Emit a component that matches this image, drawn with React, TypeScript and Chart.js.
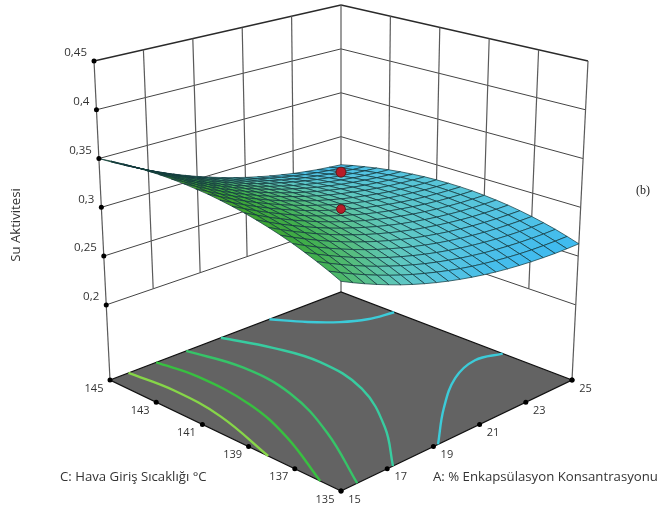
import React, { useEffect, useRef } from "react";
import { Chart, registerables } from "chart.js";

Chart.register(...registerables);

const enkapsulasyonA = [15, 15.5, 16, 16.5, 17, 17.5, 18, 18.5, 19, 19.5, 20, 20.5, 21, 21.5, 22, 22.5, 23, 23.5, 24, 24.5, 25];
const sicaklikC = [135, 135.5, 136, 136.5, 137, 137.5, 138, 138.5, 139, 139.5, 140, 140.5, 141, 141.5, 142, 142.5, 143, 143.5, 144, 144.5, 145];

// Su aktivitesi, one row per C value, one column per A value
const suAktivitesi = [
  [.3178, .3122, .3069, .3019, .2972, .2927, .2886, .2848, .2813, .2781, .2752, .2726, .2703, .2683, .2666, .2652, .2641, .2633, .2627, .2625, .2626],
  [.3230, .3173, .3119, .3069, .3021, .2976, .2934, .2895, .2860, .2827, .2797, .2770, .2746, .2726, .2708, .2693, .2681, .2672, .2667, .2664, .2664],
  [.3277, .3220, .3165, .3114, .3065, .3020, .2978, .2938, .2902, .2868, .2838, .2811, .2786, .2765, .2746, .2731, .2719, .2709, .2703, .2699, .2699],
  [.3321, .3263, .3208, .3156, .3107, .3061, .3017, .2977, .2940, .2906, .2875, .2847, .2822, .2800, .2781, .2765, .2751, .2741, .2734, .2730, .2729],
  [.3362, .3303, .3247, .3195, .3145, .3098, .3054, .3013, .2976, .2941, .2909, .2880, .2854, .2832, .2812, .2795, .2781, .2770, .2763, .2758, .2756],
  [.3399, .3340, .3283, .3230, .3179, .3132, .3087, .3046, .3007, .2972, .2939, .2910, .2883, .2860, .2839, .2822, .2807, .2796, .2787, .2782, .2779],
  [.3431, .3371, .3314, .3260, .3209, .3161, .3115, .3073, .3034, .2998, .2965, .2935, .2908, .2884, .2863, .2845, .2829, .2817, .2808, .2802, .2799],
  [.3460, .3399, .3341, .3287, .3235, .3186, .3140, .3097, .3058, .3021, .2987, .2956, .2928, .2904, .2882, .2863, .2847, .2834, .2825, .2818, .2814],
  [.3486, .3425, .3366, .3311, .3258, .3209, .3162, .3119, .3078, .3041, .3006, .2975, .2946, .2921, .2898, .2879, .2862, .2849, .2838, .2831, .2826],
  [.3507, .3445, .3386, .3330, .3277, .3227, .3179, .3135, .3094, .3056, .3021, .2989, .2960, .2934, .2911, .2891, .2873, .2859, .2848, .2840, .2835],
  [.3525, .3462, .3402, .3346, .3292, .3241, .3193, .3148, .3107, .3068, .3032, .2999, .2969, .2943, .2919, .2898, .2880, .2865, .2854, .2845, .2839],
  [.3540, .3477, .3416, .3359, .3304, .3253, .3204, .3159, .3116, .3077, .3040, .3007, .2976, .2949, .2924, .2903, .2884, .2869, .2856, .2847, .2840],
  [.3549, .3485, .3424, .3366, .3311, .3259, .3209, .3163, .3120, .3080, .3043, .3009, .2978, .2950, .2925, .2903, .2883, .2867, .2854, .2844, .2837],
  [.3557, .3492, .3430, .3372, .3316, .3263, .3213, .3166, .3123, .3082, .3044, .3009, .2977, .2949, .2923, .2900, .2880, .2863, .2850, .2839, .2831],
  [.3560, .3495, .3432, .3373, .3316, .3263, .3212, .3165, .3120, .3079, .3040, .3005, .2972, .2943, .2916, .2893, .2872, .2855, .2840, .2829, .2820],
  [.3560, .3494, .3431, .3370, .3313, .3259, .3208, .3160, .3114, .3072, .3033, .2997, .2964, .2933, .2906, .2882, .2861, .2843, .2827, .2815, .2806],
  [.3554, .3487, .3423, .3363, .3305, .3250, .3198, .3149, .3104, .3061, .3021, .2984, .2950, .2920, .2892, .2867, .2845, .2826, .2811, .2798, .2788],
  [.3547, .3480, .3415, .3354, .3295, .3240, .3187, .3138, .3091, .3048, .3007, .2970, .2935, .2904, .2875, .2850, .2827, .2808, .2791, .2778, .2767],
  [.3535, .3467, .3402, .3339, .3280, .3224, .3171, .3121, .3073, .3029, .2988, .2950, .2915, .2882, .2853, .2827, .2804, .2784, .2766, .2752, .2741],
  [.3519, .3450, .3384, .3322, .3262, .3205, .3151, .3100, .3053, .3008, .2966, .2927, .2891, .2859, .2829, .2802, .2778, .2757, .2740, .2725, .2713],
  [.3500, .3431, .3364, .3301, .3240, .3183, .3128, .3077, .3028, .2983, .2940, .2901, .2864, .2831, .2800, .2773, .2748, .2727, .2708, .2693, .2680],
];

const aTicks = [15, 17, 19, 21, 23, 25];
const cTicks = [135, 137, 139, 141, 143, 145];
const zTicks = [0.2, 0.25, 0.3, 0.35, 0.4, 0.45];
const zTickLabels = ["0,2", "0,25", "0,3", "0,35", "0,4", "0,45"];
const designPoints = [
  { a: 20, c: 140, z: 0.3418 },
  { a: 20, c: 140, z: 0.304 },
];

// Contours on the floor, [A, C]
const contourA: number[][] = [
  [15.8, 145], [16.0, 143.2], [15.8, 141], [15, 138.15],
];
const contourB: number[][] = [
  [17.0, 145], [17.25, 143.5], [17.05, 141], [16.3, 138.65], [15, 135.9],
];
const contourC: number[][] = [
  [18.3, 145], [18.75, 143], [18.5, 140.7], [17.4, 138], [15.7, 135],
];
const contourD: number[][] = [
  [19.8, 145], [20.45, 143.4], [20.75, 141.65], [20.3, 139.4], [18.9, 137], [17.25, 135],
];
const contourE: number[][] = [
  [25, 138], [24.1, 138.3], [22.8, 137.85], [21.05, 136.6], [19.2, 135],
];
const contourF: number[][] = [
  [21.9, 145], [22.6, 144.05], [23.3, 143.35], [24.05, 142.9], [25, 142.7],
];
const contourColors = ["#86d648", "#38c040", "#36c468", "#38cca0", "#3ccbd8", "#3ccbd8"];

const A_MIN = 15, A_MAX = 25, C_MIN = 135, C_MAX = 145;
const FLOOR_Z = 0.123, TOP_Z = 0.45;
// Camera: where the eight corners of the box land on the page, [C-low/A-low, A-high, C-high, both-high]
const floorBox = [[341, 491], [572, 380], [110, 380], [341, 292]];
const topBox = [[341, 139], [588, 61], [94, 61], [341, 5]];

function project(a: number, c: number, z: number) {
  const u = (a - A_MIN) / (A_MAX - A_MIN);
  const v = (c - C_MIN) / (C_MAX - C_MIN);
  const w = (z - FLOOR_Z) / (TOP_Z - FLOOR_Z);
  const mix = (box: number[][], k: number) =>
    box[0][k] * (1 - u) * (1 - v) + box[1][k] * u * (1 - v) + box[2][k] * (1 - u) * v + box[3][k] * u * v;
  return {
    x: mix(floorBox, 0) * (1 - w) + mix(topBox, 0) * w,
    y: mix(floorBox, 1) * (1 - w) + mix(topBox, 1) * w,
  };
}

const colorStops: [number, number, number, number][] = [
  [0.263, 62, 186, 240],
  [0.28, 85, 196, 226],
  [0.295, 96, 200, 190],
  [0.31, 86, 190, 130],
  [0.325, 66, 176, 80],
  [0.34, 60, 165, 55],
  [0.356, 70, 160, 40],
];

function surfaceColor(z: number) {
  if (z <= colorStops[0][0]) return `rgb(${colorStops[0][1]},${colorStops[0][2]},${colorStops[0][3]})`;
  for (let i = 1; i < colorStops.length; i++) {
    const p = colorStops[i - 1], q = colorStops[i];
    if (z <= q[0]) {
      const t = (z - p[0]) / (q[0] - p[0]);
      return `rgb(${p[1] + (q[1] - p[1]) * t},${p[2] + (q[2] - p[2]) * t},${p[3] + (q[3] - p[3]) * t})`;
    }
  }
  return "rgb(70,160,40)";
}

function line(points: { x: number; y: number }[], color: string, width: number, extra: any = {}) {
  return { data: points, showLine: true, borderColor: color, borderWidth: width, pointRadius: 0, fill: false, tension: 0, ...extra };
}

function buildDatasets() {
  const list: any[] = [];
  const gridColor = "#5a5a5a";
  // Walls: horizontal rules
  for (const z of zTicks) {
    const w = z === TOP_Z ? 1.3 : 1;
    const col = z === TOP_Z ? "#2a2a2a" : "#444444";
    list.push(line([project(A_MIN, C_MAX, z), project(A_MAX, C_MAX, z)], col, w));
    list.push(line([project(A_MAX, C_MAX, z), project(A_MAX, C_MIN, z)], col, w));
  }
  // Walls: vertical rules
  for (const a of aTicks) {
    const low = a === A_MIN || a === A_MAX ? FLOOR_Z : zTicks[0];
    list.push(line([project(a, C_MAX, low), project(a, C_MAX, TOP_Z)], gridColor, 1.2));
  }
  for (const c of cTicks) {
    if (c === C_MAX) continue;
    const low = c === C_MIN ? FLOOR_Z : zTicks[0];
    list.push(line([project(A_MAX, c, low), project(A_MAX, c, TOP_Z)], gridColor, 1.2));
  }
  // Floor
  list.push(line(
    [project(A_MIN, C_MIN, FLOOR_Z), project(A_MAX, C_MIN, FLOOR_Z), project(A_MAX, C_MAX, FLOOR_Z), project(A_MIN, C_MAX, FLOOR_Z), project(A_MIN, C_MIN, FLOOR_Z)],
    "#111111", 1.3, { fill: "shape", backgroundColor: "#636363" },
  ));
  // Contours
  [contourA, contourB, contourC, contourD, contourE, contourF].forEach((contour, i) => {
    list.push(line(contour.map(([a, c]) => project(a, c, FLOOR_Z)), contourColors[i], 2.4, { tension: 0.4 }));
  });
  // Surface, from the back corner to the front one
  for (let r = sicaklikC.length - 2; r >= 0; r--) {
    for (let q = enkapsulasyonA.length - 2; q >= 0; q--) {
      const z00 = suAktivitesi[r][q], z10 = suAktivitesi[r][q + 1], z01 = suAktivitesi[r + 1][q], z11 = suAktivitesi[r + 1][q + 1];
      const p0 = project(enkapsulasyonA[q], sicaklikC[r], z00);
      const p1 = project(enkapsulasyonA[q + 1], sicaklikC[r], z10);
      const p2 = project(enkapsulasyonA[q + 1], sicaklikC[r + 1], z11);
      const p3 = project(enkapsulasyonA[q], sicaklikC[r + 1], z01);
      list.push(line([p0, p1, p2, p3, p0], "rgba(18,56,62,0.85)", 0.85, {
        fill: "shape",
        backgroundColor: surfaceColor((z00 + z10 + z01 + z11) / 4),
      }));
    }
  }
  // Design points
  list.push({
    data: designPoints.map((p) => project(p.a, p.c, p.z)),
    showLine: false,
    pointRadius: [5, 4.4],
    pointBackgroundColor: "#b81c28",
    pointBorderColor: "#5a1a1a",
    pointBorderWidth: 1,
  });
  // Tick dots
  const dots = [
    ...zTicks.map((z) => project(A_MIN, C_MAX, z)),
    ...aTicks.map((a) => project(a, C_MIN, FLOOR_Z)),
    ...cTicks.map((c) => project(A_MIN, c, FLOOR_Z)),
    project(A_MAX, C_MIN, FLOOR_Z),
  ];
  list.push({ data: dots, showLine: false, pointRadius: 2.5, pointBackgroundColor: "#000", pointBorderWidth: 0 });
  // Later entries lie on top: Chart.js paints high "order" first
  list.forEach((d, i) => (d.order = list.length - i));
  return list;
}

const textPlugin = {
  id: "axisTexts",
  afterDraw(chart: any) {
    const ctx = chart.ctx;
    ctx.save();
    ctx.fillStyle = "#333333";
    ctx.textBaseline = "middle";
    ctx.font = "11.5px 'Open Sans'";
    ctx.textAlign = "right";
    zTicks.forEach((z, i) => {
      const p = project(A_MIN, C_MAX, z);
      ctx.fillText(zTickLabels[i], p.x - 7, p.y - 8);
    });
    ctx.font = "11px 'Open Sans'";
    ctx.textAlign = "center";
    cTicks.forEach((c) => {
      const p = project(A_MIN, c, FLOOR_Z);
      ctx.fillText(String(c), p.x - 16, p.y + 8.5);
    });
    aTicks.forEach((a) => {
      const p = project(a, C_MIN, FLOOR_Z);
      ctx.fillText(String(a), p.x + 13.5, p.y + 8.5);
    });
    ctx.font = "13.2px 'Open Sans'";
    ctx.textAlign = "left";
    ctx.fillText("C: Hava Giriş Sıcaklığı °C", 60, 477);
    ctx.fillText("A: % Enkapsülasyon Konsantrasyonu", 433, 477);
    ctx.save();
    ctx.translate(16, 225);
    ctx.rotate(-Math.PI / 2);
    ctx.textAlign = "center";
    ctx.fillText("Su Aktivitesi", 0, 0);
    ctx.restore();
    ctx.font = "12px 'Liberation Serif'";
    ctx.textAlign = "center";
    ctx.fillStyle = "#222";
    ctx.fillText("(b)", 643, 191);
    ctx.restore();
  },
};

export default function App() {
  const ref = useRef<HTMLCanvasElement | null>(null);
  useEffect(() => {
    const chart = new Chart(ref.current as HTMLCanvasElement, {
      type: "scatter",
      data: { datasets: buildDatasets() },
      options: {
        animation: false,
        responsive: false,
        events: [],
        layout: { padding: 0, autoPadding: false },
        plugins: { legend: { display: false }, tooltip: { enabled: false }, title: { display: false } },
        scales: {
          x: { type: "linear", min: 0, max: 666, display: false },
          y: { type: "linear", min: 0, max: 514, reverse: true, display: false },
        },
      },
      plugins: [textPlugin],
    } as any);
    return () => chart.destroy();
  }, []);
  return (
    <div style={{ position: "fixed", left: 0, top: 0, width: 666, height: 514, background: "#fff" }}>
      <canvas ref={ref} width={666} height={514} style={{ display: "block" }} />
    </div>
  );
}
